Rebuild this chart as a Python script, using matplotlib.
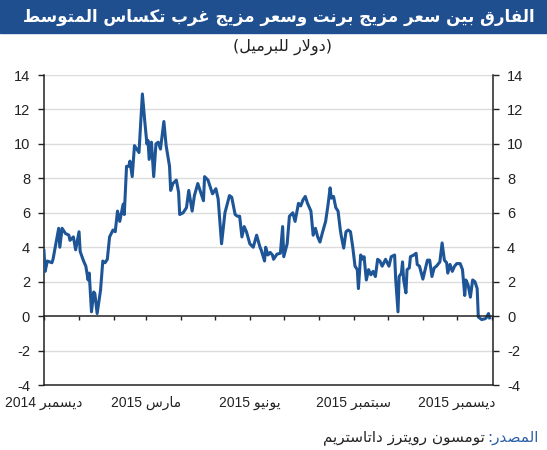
import re
import pandas as pd
import matplotlib
matplotlib.use('Agg')
import matplotlib.pyplot as plt
from matplotlib.patches import Rectangle

# Brent - WTI spread (days after 1 Dec 2014, $/bbl)
days = [0, 1, 3, 7, 8, 13, 14, 16, 19, 22, 23, 26, 28, 31, 32, 35, 37, 39, 40,
        42, 44, 45, 47, 50, 52, 54, 56, 58, 61, 63, 65, 67, 70, 71, 73, 75, 76,
        78, 80, 82, 84, 87, 89, 91, 92, 93, 95, 97, 99, 101, 103, 106, 108, 111,
        112, 114, 117, 119, 120, 123, 126, 128, 131, 133, 136, 139, 141, 142,
        145, 147, 149, 152, 154, 157, 160, 164, 166, 169, 171, 173, 175, 177,
        179, 182, 185, 188, 191, 192, 195, 196, 198, 200, 202, 203, 206, 209,
        211, 212, 215, 217, 220, 222, 225, 227, 229, 231, 233, 236, 238, 240,
        242, 244, 246, 249, 251, 253, 254, 256, 258, 260, 262, 263, 265, 267,
        269, 271, 273, 275, 277, 278, 280, 282, 283, 285, 287, 289, 291, 293,
        295, 297, 299, 302, 305, 307, 310, 311, 313, 314, 316, 317, 318, 320,
        321, 323, 324, 327, 329, 330, 332, 335, 337, 339, 341, 343, 345, 347,
        350, 352, 354, 356, 357, 359, 361, 363, 365, 368, 370, 372, 373, 375,
        377, 379, 381, 383, 384, 387, 390, 391, 393, 394]
spread = [3.8, 2.6, 3.2, 3.1, 3.3, 5.1, 4.0, 5.1, 4.8, 4.7, 4.4, 4.6, 3.85,
          4.9, 3.75, 3.2, 2.9, 2.1, 2.5, 0.25, 1.4, 1.3, 0.15, 1.5, 3.2, 3.1,
          3.3, 4.6, 5.0, 4.9, 6.1, 5.5, 6.5, 5.9, 8.7, 8.7, 9.0, 8.1, 9.9, 9.7,
          9.5, 12.9, 11.4, 10.0, 10.2, 9.1, 10.1, 8.1, 10.0, 10.1, 9.7, 11.3,
          9.9, 8.7, 7.3, 7.7, 7.9, 7.2, 5.9, 6.0, 6.3, 7.3, 6.1, 7.0, 7.7, 7.1,
          6.7, 8.1, 7.9, 7.5, 7.1, 7.4, 6.8, 4.2, 6.0, 7.0, 6.9, 5.9, 5.8, 5.8,
          4.6, 5.2, 4.9, 4.2, 4.0, 4.7, 4.0, 3.85, 3.2, 4.0, 3.55, 3.7, 3.55,
          3.3, 3.6, 3.65, 5.2, 3.45, 4.2, 5.8, 6.0, 5.5, 6.55, 6.4, 6.75, 6.95,
          6.55, 6.1, 4.7, 5.1, 4.6, 4.3, 4.8, 5.5, 6.4, 7.45, 6.85, 6.95, 6.3,
          6.1, 5.0, 4.6, 3.95, 4.9, 5.0, 4.9, 4.0, 2.9, 2.7, 1.6, 3.55, 3.3,
          3.45, 2.1, 2.7, 2.4, 2.6, 2.3, 3.3, 3.2, 2.9, 3.3, 2.9, 3.45, 3.55,
          2.1, 0.25, 2.3, 2.5, 3.15, 2.1, 1.35, 2.7, 2.8, 3.45, 3.55, 3.65, 3.0,
          2.9, 2.15, 2.7, 3.25, 3.25, 2.3, 2.8, 2.9, 3.15, 4.25, 3.25, 3.1, 2.5,
          3.0, 2.6, 2.9, 3.05, 3.05, 2.7, 1.2, 2.1, 1.8, 1.1, 2.1, 2.0, 1.6,
          -0.05, -0.2, -0.15, -0.1, 0.15, -0.1]

start = pd.Timestamp('2014-12-01')
end = pd.Timestamp('2016-01-02')
label_months = ['2014-12-01', '2015-03-01', '2015-06-01', '2015-09-01', '2015-12-01']
label_texts = ['ديسمبر 2014', 'مارس 2015', 'يونيو 2015', 'سبتمبر 2015', 'ديسمبر 2015']
yticks = [-4, -2, 0, 2, 4, 6, 8, 10, 12, 14]

title = 'الفارق بين سعر مزيج برنت وسعر مزيج غرب تكساس المتوسط'
subtitle = '(دولار للبرميل)'
source_head = 'المصدر:'
source_body = 'تومسون رويترز داتاستريم'

# matplotlib has no Arabic shaping, so map to presentation forms by hand
FORMS = {'ا': (0xFE8D, 2), 'ب': (0xFE8F, 4), 'ت': (0xFE95, 4), 'ج': (0xFE9D, 4),
         'د': (0xFEA9, 2), 'ر': (0xFEAD, 2), 'ز': (0xFEAF, 2), 'س': (0xFEB1, 4),
         'ص': (0xFEB9, 4), 'ط': (0xFEC1, 4), 'ع': (0xFEC9, 4), 'غ': (0xFECD, 4),
         'ف': (0xFED1, 4), 'ق': (0xFED5, 4), 'ك': (0xFED9, 4), 'ل': (0xFEDD, 4),
         'م': (0xFEE1, 4), 'ن': (0xFEE5, 4), 'و': (0xFEED, 2), 'ي': (0xFEF1, 4)}


def ar(text):
    out = []
    i = 0
    n = len(text)
    while i < n:
        c = text[i]
        if c not in FORMS:
            out.append(c)
            i += 1
            continue
        prev = text[i - 1] if i > 0 else None
        joins_prev = prev in FORMS and FORMS[prev][1] == 4
        if c == 'ل' and i + 1 < n and text[i + 1] == 'ا':
            out.append('\uFEFC' if joins_prev else '\uFEFB')
            i += 2
            continue
        nxt = text[i + 1] if i + 1 < n else None
        base, k = FORMS[c]
        joins_next = k == 4 and nxt in FORMS
        if joins_prev and joins_next:
            off = 3
        elif joins_prev:
            off = 1
        elif joins_next:
            off = 2
        else:
            off = 0
        out.append(chr(base + off))
        i += 1
    s = ''.join(out)[::-1]
    s = re.sub(r'[0-9]+', lambda m: m.group(0)[::-1], s)
    return s.translate(str.maketrans('()', ')('))


plt.rcParams['font.family'] = ['Liberation Sans', 'DejaVu Sans']
blue = '#1d5597'

fig = plt.figure(figsize=(5.47, 4.5), dpi=100)
fig.patches.append(Rectangle((0, 0.926), 1, 0.074, transform=fig.transFigure,
                             color='#1f4f8f', zorder=0))
fig.text(0.51, 0.963, ar(title), color='white', fontsize=12, fontweight='bold',
         ha='center', va='center', family=['DejaVu Sans'])
fig.text(0.516, 0.895, ar(subtitle), fontsize=11.5, ha='center', va='center',
         color='#222222', family=['DejaVu Sans'])

ax = fig.add_axes([0.0804, 0.1444, 0.8209, 0.6889])
ax.plot(days, spread, color=blue, lw=2.2, solid_joinstyle='round', zorder=3)

total = (end - start).days
ax.set_xlim(0, total)
ax.set_ylim(-4, 14)
ax.set_yticks(yticks)
ax.set_yticklabels([str(v) for v in yticks])
for v in yticks[1:]:
    if v != 0:
        ax.axhline(v, color='#dcdcdc', lw=1.0, zorder=1)

month_days = (pd.date_range(start, end, freq='MS') - start).days
ax.spines['top'].set_visible(False)
ax.spines['bottom'].set_position(('data', 0))
ax.spines['bottom'].set_zorder(4)
for side in ['left', 'right', 'bottom']:
    ax.spines[side].set_color('#222222')
    ax.spines[side].set_linewidth(1.1)
ax.set_xticks(list(month_days))
ax.tick_params(axis='x', direction='out', length=3, width=1, labelbottom=False,
               color='#222222')
ax.tick_params(axis='y', direction='out', length=4, width=1, left=True, right=True,
               labelleft=True, labelright=True, labelsize=10.5, colors='#222222',
               pad=6)

sec = ax.secondary_xaxis(0.0)
sec.set_xticks(list((pd.to_datetime(label_months) - start).days))
sec.set_xticklabels([ar(t) for t in label_texts], fontsize=10, color='#222222')
sec.tick_params(length=0, pad=8)
sec.spines['bottom'].set_color('#222222')
sec.spines['bottom'].set_linewidth(1.1)

t_head = fig.text(0.985, 0.027, ar(source_head), fontsize=11, ha='right',
                  va='center', color='#2b5fa8', family=['DejaVu Sans'])
fig.canvas.draw()
bb = t_head.get_window_extent()
x_body = (bb.x0 - 3) / fig.bbox.width
fig.text(x_body, 0.027, ar(source_body), fontsize=11, ha='right', va='center',
         color='#222222', family=['DejaVu Sans'])

fig.savefig('out.png', dpi=100)
